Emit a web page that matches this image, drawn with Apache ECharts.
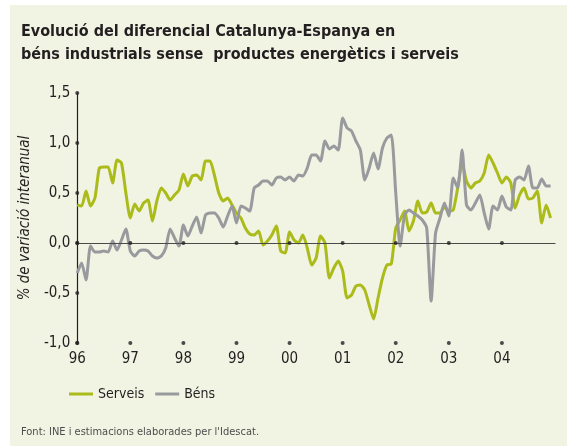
<!DOCTYPE html>
<html lang="ca">
<head>
    <meta charset="UTF-8">
    <title>Diferencial Catalunya-Espanya</title>
    <script src="https://cdn.jsdelivr.net/npm/echarts@6.0.0/dist/echarts.min.js"></script>
    <style>
        body { margin: 0; background: #ffffff; }
        #main { position: absolute; left: 10px; top: 5px; width: 557px; height: 441px; background: #f1f3e3; }
    </style>
</head>
<body>
    <div id="main"></div>
</body>
<script>
    // etiquetes d'anys (un tick cada 12 mesos, gener 1996 = 0)
    var yearLabels = ['96', '97', '98', '99', '00', '01', '02', '03', '04'];
    var yTicks = [1.5, 1.0, 0.5, 0.0, -0.5, -1.0];

    // diferencial mensual, gen 1996 - des 2004
    var serveis = [
        0.38, 0.37, 0.52, 0.37, 0.45, 0.75, 0.76, 0.76, 0.60, 0.83, 0.80, 0.50,
        0.25, 0.39, 0.32, 0.40, 0.43, 0.22, 0.42, 0.55, 0.50, 0.43, 0.48, 0.53,
        0.69, 0.57, 0.67, 0.68, 0.63, 0.82, 0.82, 0.68, 0.50, 0.42, 0.45, 0.38,
        0.30, 0.25, 0.15, 0.09, 0.08, 0.12, -0.02, 0.02, 0.08, 0.17, -0.08, -0.10,
        0.11, 0.03, 0.00, 0.08, -0.05, -0.22, -0.15, 0.07, 0.00, -0.35, -0.25, -0.18,
        -0.28, -0.55, -0.52, -0.43, -0.42, -0.47, -0.62, -0.76, -0.55, -0.35, -0.22, -0.21,
        0.15, 0.23, 0.32, 0.12, 0.22, 0.42, 0.30, 0.31, 0.40, 0.30, 0.30, 0.36,
        0.32, 0.33, 0.55, 0.80, 0.62, 0.55, 0.60, 0.62, 0.70, 0.88, 0.80, 0.70,
        0.60, 0.66, 0.60, 0.35, 0.48, 0.55, 0.44, 0.45, 0.52, 0.20, 0.38, 0.25
    ];
    var bens = [
        -0.30, -0.20, -0.37, -0.03, -0.09, -0.09, -0.08, -0.09, 0.02, -0.07, 0.03, 0.14,
        -0.08, -0.13, -0.08, -0.07, -0.08, -0.13, -0.15, -0.13, -0.05, 0.14, 0.05, -0.03,
        0.18, 0.07, 0.17, 0.26, 0.10, 0.28, 0.30, 0.30, 0.25, 0.16, 0.27, 0.37,
        0.20, 0.37, 0.35, 0.32, 0.55, 0.58, 0.62, 0.62, 0.58, 0.65, 0.66, 0.63,
        0.66, 0.62, 0.68, 0.67, 0.75, 0.88, 0.88, 0.82, 1.02, 0.94, 0.97, 0.93,
        1.25, 1.15, 1.12, 1.02, 0.93, 0.63, 0.75, 0.90, 0.74, 0.95, 1.05, 1.08,
        0.50, -0.03, 0.28, 0.33, 0.30, 0.27, 0.23, 0.15, -0.58, 0.10, 0.25, 0.40,
        0.27, 0.65, 0.55, 0.93, 0.38, 0.33, 0.40, 0.48, 0.30, 0.14, 0.37, 0.33,
        0.47, 0.36, 0.33, 0.63, 0.66, 0.63, 0.77, 0.55, 0.55, 0.64, 0.57, 0.57
    ];

    var font = "'Liberation Sans Narrow', 'DejaVu Sans Condensed', 'Noto Sans', sans-serif";

    function toPairs(arr) {
        return arr.map(function (v, i) { return [i, v]; });
    }

    // punts negres als ticks dels eixos
    var dots = [];
    for (var k = 0; k < yearLabels.length; k++) {
        dots.push([k * 12, 0]);
        dots.push([k * 12, -1]);
    }
    for (var j = 0; j < yTicks.length; j++) {
        dots.push([0, yTicks[j]]);
    }

    var myChart = echarts.init(document.getElementById('main'));

    var option = {
        animation: false,
        textStyle: { fontFamily: font },
        title: {
            text: 'Evolució del diferencial Catalunya-Espanya en\nbéns industrials sense  productes energètics i serveis',
            left: 11,
            top: 15,
            padding: 0,
            textStyle: {
                fontFamily: font,
                fontSize: 16,
                fontWeight: 'bold',
                lineHeight: 23,
                color: '#231f20'
            }
        },
        legend: {
            left: 59,
            top: 382,
            padding: 0,
            itemWidth: 24,
            itemHeight: 3,
            itemGap: 11,
            icon: 'rect',
            textStyle: { fontFamily: font, fontSize: 14, color: '#231f20' },
            data: ['Serveis', 'Béns']
        },
        grid: {
            left: 65,
            top: 88,
            right: 12,
            bottom: 103
        },
        xAxis: {
            type: 'value',
            min: 0,
            max: 108,
            interval: 12,
            axisLine: { lineStyle: { color: '#231f20', width: 1 } },
            axisTick: { show: false },
            splitLine: { show: false },
            axisLabel: {
                margin: 9,
                fontSize: 15,
                color: '#231f20',
                formatter: function (v) {
                    var idx = Math.round(v / 12);
                    return yearLabels[idx] || '';
                }
            }
        },
        yAxis: {
            type: 'value',
            min: -1,
            max: 1.5,
            interval: 0.5,
            name: '% de variació interanual',
            nameLocation: 'middle',
            nameGap: 36,
            nameTextStyle: { fontFamily: font, fontSize: 15, fontStyle: 'italic', color: '#231f20' },
            axisLine: { show: true, onZero: false, lineStyle: { color: '#231f20', width: 1.2 } },
            axisTick: { show: false },
            splitLine: { show: false },
            axisLabel: {
                margin: 7,
                fontSize: 15,
                color: '#231f20',
                formatter: function (v) { return v.toFixed(1).replace('.', ','); }
            }
        },
        series: [
            {
                name: 'Serveis',
                type: 'line',
                data: toPairs(serveis),
                showSymbol: false,
                smooth: 0.2,
                lineStyle: { color: '#abbb1a', width: 3 },
                itemStyle: { color: '#abbb1a' },
                z: 3
            },
            {
                name: 'Béns',
                type: 'line',
                data: toPairs(bens),
                showSymbol: false,
                smooth: 0.2,
                lineStyle: { color: '#999a9e', width: 3 },
                itemStyle: { color: '#999a9e' },
                z: 4
            },
            {
                name: 'eixos',
                type: 'scatter',
                silent: true,
                data: dots,
                symbolSize: 4,
                itemStyle: { color: '#231f20' },
                z: 5,
                markLine: {
                    silent: true,
                    symbol: 'none',
                    label: { show: false },
                    lineStyle: { color: '#4a4a4a', width: 1, type: 'solid' },
                    data: [{ yAxis: 0 }]
                }
            }
        ],
        graphic: [
            {
                type: 'text',
                left: 11,
                top: 422,
                style: {
                    text: "Font: INE i estimacions elaborades per l'Idescat.",
                    font: "11px " + font,
                    fill: '#4d4d4d'
                }
            }
        ]
    };

    myChart.setOption(option);
</script>
</html>
